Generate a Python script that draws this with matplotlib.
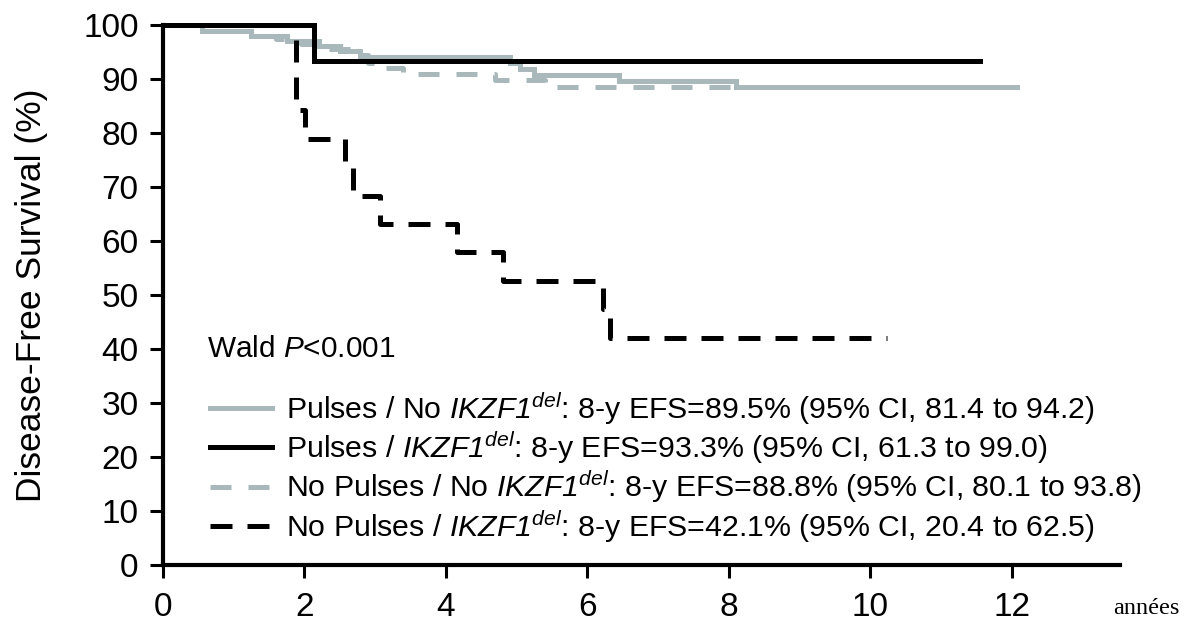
import matplotlib
matplotlib.use("Agg")
import matplotlib.pyplot as plt
from matplotlib.lines import Line2D

plt.rcParams['font.family'] = ['Liberation Sans', 'DejaVu Sans']
plt.rcParams['mathtext.fontset'] = 'custom'
plt.rcParams['mathtext.rm'] = 'Liberation Sans'
plt.rcParams['mathtext.it'] = 'Liberation Sans:italic'
plt.rcParams['mathtext.sf'] = 'Liberation Sans:italic'

# ---- data (years, % disease-free survival) ----
t_pulses_noikzf = [0, 0.55, 1.25, 1.75, 2.2, 2.5, 2.78, 4.9, 5.05, 5.25, 6.45, 8.1, 12.07]
s_pulses_noikzf = [100, 98.9, 98.0, 97.0, 96.1, 95.2, 94.0, 93.0, 91.9, 90.8, 89.6, 88.6, 88.6]

t_pulses_ikzf = [0, 2.13, 11.55]
s_pulses_ikzf = [100, 93.3, 93.3]

t_nopulses_noikzf = [0, 0.55, 1.25, 1.6, 1.95, 2.35, 2.65, 2.9, 3.1, 3.4, 4.7, 5.4, 12.1]
s_nopulses_noikzf = [100, 98.9, 98.0, 97.4, 96.5, 95.6, 94.5, 93.0, 92.0, 91.0, 89.9, 88.6, 88.6]

t_nopulses_ikzf = [0, 1.88, 2.01, 2.57, 2.68, 3.07, 4.15, 4.81, 6.22, 6.32, 10.23]
s_nopulses_ikzf = [100, 84.2, 78.9, 73.7, 68.4, 63.2, 57.9, 52.6, 47.4, 42.1, 42.1]

labels = [
    r"Pulses / No $\mathsf{IKZF1}^{\mathsf{del}}$: 8-y EFS=89.5% (95% CI, 81.4 to 94.2)",
    r"Pulses / $\mathsf{IKZF1}^{\mathsf{del}}$: 8-y EFS=93.3% (95% CI, 61.3 to 99.0)",
    r"No Pulses / No $\mathsf{IKZF1}^{\mathsf{del}}$: 8-y EFS=88.8% (95% CI, 80.1 to 93.8)",
    r"No Pulses / $\mathsf{IKZF1}^{\mathsf{del}}$: 8-y EFS=42.1% (95% CI, 20.4 to 62.5)",
]
xticks = [0, 2, 4, 6, 8, 10, 12]
yticks = [0, 10, 20, 30, 40, 50, 60, 70, 80, 90, 100]

GRAY = '#A9B8BB'
LW = 3.6
DASH_BLACK = (4.4, 3.0)
DASH_GRAY = (4.2, 3.4)

fig = plt.figure(figsize=(11.86, 6.24), dpi=100)
ax = fig.add_axes([163/1186, 1-565/624, (1120-163)/1186, (565-25)/624])

ax.step(t_pulses_noikzf, s_pulses_noikzf, where='post', color=GRAY, lw=LW,
        clip_on=False, zorder=2, solid_joinstyle='miter')
ax.step(t_nopulses_noikzf, s_nopulses_noikzf, where='post', color=GRAY, lw=LW,
        dashes=DASH_GRAY, clip_on=False, zorder=2)
ax.step(t_pulses_ikzf, s_pulses_ikzf, where='post', color='black', lw=LW,
        clip_on=False, zorder=3, solid_joinstyle='miter')
ax.step(t_nopulses_ikzf, s_nopulses_ikzf, where='post', color='black', lw=LW,
        dashes=DASH_BLACK, clip_on=False, zorder=3)

ax.set_xlim(0, 13.53)
ax.set_ylim(0, 100)
ax.set_xticks(xticks)
ax.set_yticks(yticks)
ax.tick_params(axis='both', direction='out', length=9.5, width=2.2,
               labelsize=24, pad=8)
ax.tick_params(axis='x', pad=10)
for side in ['top', 'right']:
    ax.spines[side].set_visible(False)
for side in ['left', 'bottom']:
    ax.spines[side].set_linewidth(3.0)

ax.set_ylabel("Disease-Free Survival (%)", fontsize=25.5)
ax.yaxis.set_label_coords(-0.120, 0.5)

ax.text(0.046, 0.40, r"Wald $\mathsf{P}$<0.001", transform=ax.transAxes,
        fontsize=21.4, va='center', ha='left')

handles = [
    Line2D([], [], color=GRAY, lw=LW),
    Line2D([], [], color='black', lw=LW),
    Line2D([], [], color=GRAY, lw=LW, dashes=DASH_GRAY),
    Line2D([], [], color='black', lw=LW, dashes=DASH_BLACK),
]
leg = ax.legend(handles, labels, loc='upper left', bbox_to_anchor=(0.049, 0.324),
                frameon=False, fontsize=21.8, handlelength=2.05, handletextpad=0.48,
                labelspacing=0.09, borderaxespad=0, borderpad=0)

fig.text(1113/1186, 1-614/624, "années", family='Liberation Serif', fontsize=17.5,
         va='baseline', ha='left')

fig.savefig("out.png", dpi=100)
